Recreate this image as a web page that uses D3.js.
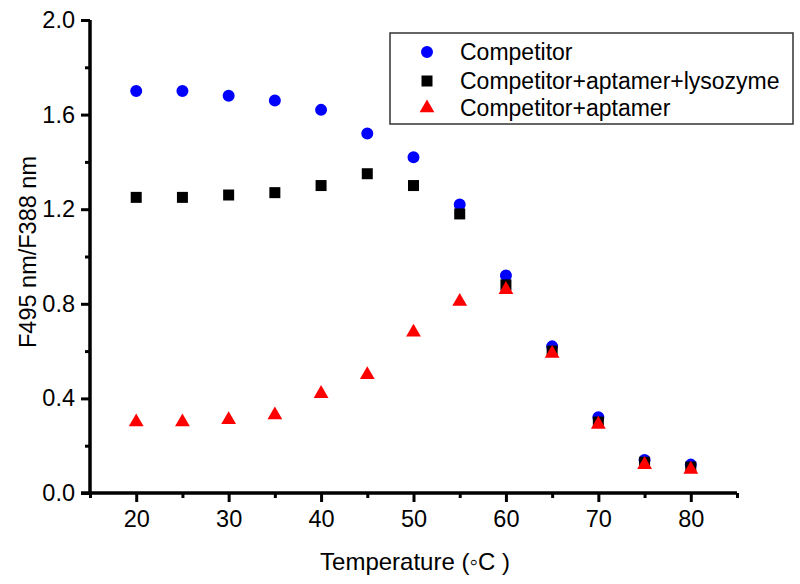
<!DOCTYPE html>
<html><head><meta charset="utf-8">
<script src="https://cdn.jsdelivr.net/npm/d3@7"></script>
<style>body{margin:0;background:#fff}svg{display:block}text{font-family:"Liberation Sans",Arial,sans-serif;fill:#000}</style>
</head><body><svg id="c" width="800" height="584"></svg>
<script>
const temps = [20,25,30,35,40,45,50,55,60,65,70,75,80];
const competitor = [1.70,1.70,1.68,1.66,1.62,1.52,1.42,1.22,0.92,0.62,0.32,0.14,0.12];
const compAptLys = [1.25,1.25,1.26,1.27,1.30,1.35,1.30,1.18,0.88,0.60,0.30,0.13,0.11];
const compApt = [0.30,0.30,0.31,0.33,0.42,0.50,0.68,0.81,0.86,0.59,0.29,0.12,0.10];
const seriesNames = ["Competitor","Competitor+aptamer+lysozyme","Competitor+aptamer"];
const xMajor = [20,30,40,50,60,70,80];
const xMinor = [15,25,35,45,55,65,75,85];
const yMajor = [0.0,0.4,0.8,1.2,1.6,2.0];
const yMinor = [0.2,0.6,1.0,1.4,1.8];

const svg = d3.select("#c");
const x = d3.scaleLinear().domain([15,85]).range([90,737]);
const y = d3.scaleLinear().domain([0,2]).range([493,20]);

const series = [
  {name:seriesNames[0], vals:competitor, color:"#0000ff", sym:d3.symbolCircle, size:113},
  {name:seriesNames[1], vals:compAptLys, color:"#000000", sym:d3.symbolSquare, size:121},
  {name:seriesNames[2], vals:compApt, color:"#ff0000", sym:d3.symbolTriangle, size:95}
];

// axes
const gx = svg.append("g").attr("transform","translate(0,493)");
gx.call(d3.axisBottom(x).tickValues(xMajor).tickSize(9).tickPadding(8).tickFormat(d3.format("d")));
const gxm = svg.append("g").attr("transform","translate(0,493)");
gxm.call(d3.axisBottom(x).tickValues(xMinor).tickSize(5).tickFormat(""));
const gy = svg.append("g").attr("transform","translate(90,0)");
gy.call(d3.axisLeft(y).tickValues(yMajor).tickSize(9).tickPadding(6).tickFormat(d3.format(".1f")));
const gym = svg.append("g").attr("transform","translate(90,0)");
gym.call(d3.axisLeft(y).tickValues(yMinor).tickSize(5).tickFormat(""));
svg.selectAll(".domain").attr("stroke","#000").attr("stroke-width",3.5);
svg.selectAll(".tick line").attr("stroke","#000").attr("stroke-width",3);
svg.selectAll(".tick text").attr("font-size",23.5).attr("font-family","'Liberation Sans',Arial,sans-serif").attr("fill","#000");
gx.select(".domain").attr("d","M"+x(15)+",0H"+x(85));
gxm.select(".domain").remove();
gym.select(".domain").remove();
gy.select(".domain").attr("d","M0,"+y(2)+"V"+y(0)+"H-9");

// axis titles
svg.append("text").attr("x",415).attr("y",570).attr("text-anchor","middle").attr("font-size",24)
  .text("Temperature (\u25E6C )");
svg.append("text").attr("transform","translate(36,252) rotate(-90)").attr("text-anchor","middle").attr("font-size",23.5)
  .text("F495 nm/F388 nm");

// points
series.forEach(s=>{
  svg.append("g").selectAll("path").data(temps.map((t,i)=>[t,s.vals[i]])).join("path")
    .attr("transform",d=>`translate(${x(d[0])},${y(d[1])})`)
    .attr("d",d3.symbol().type(s.sym).size(s.size)).attr("fill",s.color);
});

// legend
const lg = svg.append("g");
lg.append("rect").attr("x",390).attr("y",33).attr("width",403).attr("height",91)
  .attr("fill","#fff").attr("stroke","#333").attr("stroke-width",1.5);
const rowY = [52,81,108];
series.forEach((s,i)=>{
  lg.append("path").attr("transform",`translate(427,${rowY[i]})`)
    .attr("d",d3.symbol().type(s.sym).size(s.size)).attr("fill",s.color);
  lg.append("text").attr("x",460).attr("y",rowY[i]+8).attr("font-size",23).text(s.name);
});
</script></body></html>
